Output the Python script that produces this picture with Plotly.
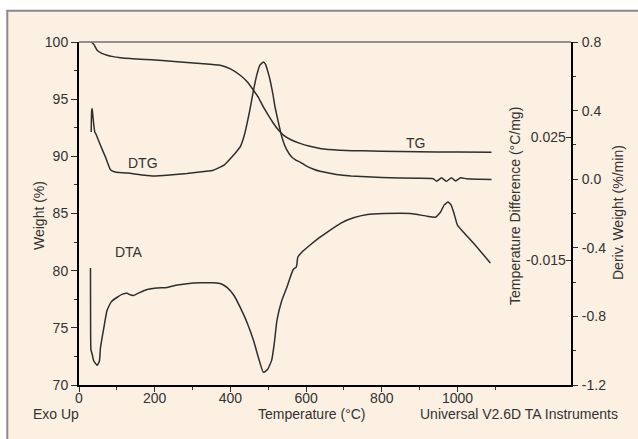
import plotly.graph_objects as go

# ---------------- data ----------------
tg_temp = [33, 40, 48, 60, 74, 90, 109, 135, 162, 220, 268, 320, 373, 400, 426, 445,
           461, 475, 487, 500, 514, 527, 540, 560, 584, 610, 637, 689, 750, 800, 895,
           1000, 1090]
tg_weight = [100.0, 99.75, 99.27, 99.0, 98.84, 98.72, 98.63, 98.55, 98.5, 98.38, 98.25,
             98.12, 97.96, 97.65, 97.09, 96.5, 95.78, 95.1, 94.32, 93.6, 92.87, 92.3,
             91.85, 91.45, 91.13, 90.88, 90.69, 90.54, 90.48, 90.44, 90.4, 90.38, 90.36]

dtg_temp = [32.2, 33.5, 34.8, 37, 41.7, 45, 51.4, 60, 70, 83, 95, 105, 128, 167, 197,
            240, 285, 330, 355, 385, 408, 416, 426, 436, 444, 452, 461, 470, 478, 487,
            493, 500, 505, 512, 518, 527, 536, 548, 562, 572, 584, 600, 620, 637, 680,
            719, 800, 895, 936, 945, 958, 971, 984, 995, 1008, 1024, 1060, 1090]
dtg_deriv = [0.275, 0.40, 0.412, 0.36, 0.275, 0.262, 0.227, 0.18, 0.129, 0.055, 0.042,
             0.039, 0.036, 0.025, 0.018, 0.024, 0.033, 0.045, 0.052, 0.085, 0.139, 0.16,
             0.188, 0.25, 0.324, 0.41, 0.518, 0.61, 0.665, 0.683, 0.67, 0.62, 0.577, 0.50,
             0.421, 0.33, 0.246, 0.175, 0.129, 0.113, 0.100, 0.078, 0.058, 0.046, 0.028,
             0.019, 0.01, 0.005, 0.003, -0.012, 0.008, -0.012, 0.008, -0.010, 0.008,
             0.003, 0.0, -0.002]

dta_temp = [30.3, 30.6, 31.5, 34.8, 39, 48, 54, 56.7, 65.5, 74, 85, 101, 115, 127, 135,
            145, 160, 180, 205, 233, 260, 285, 320, 356, 375, 391, 410, 426, 445, 461,
            475, 487, 498, 509, 516, 523, 536, 549, 566, 574, 576, 578, 590, 610, 637,
            660, 691, 725, 762, 805, 876, 920, 942, 955, 965, 975, 983, 990, 1000, 1016,
            1050, 1087]
dta_diff = [-0.0175, -0.035, -0.044, -0.0455, -0.0477, -0.0491, -0.0477, -0.0434, -0.0370,
            -0.0313, -0.0285, -0.0270, -0.0260, -0.0257, -0.0262, -0.0264, -0.0255,
            -0.0245, -0.0240, -0.0238, -0.0230, -0.0226, -0.0223, -0.0223, -0.0226,
            -0.0238, -0.0265, -0.0303, -0.0355, -0.0410, -0.0470, -0.0514, -0.0505,
            -0.0475, -0.0420, -0.0345, -0.0280, -0.0238, -0.0180, -0.0172, -0.0160,
            -0.0140, -0.0122, -0.0101, -0.0075, -0.0055, -0.0030, -0.0012, -0.0001,
            0.0002, 0.0002, -0.0007, -0.0010, 0.0006, 0.0030, 0.0039, 0.0030, 0.0006,
            -0.0036, -0.0059, -0.0105, -0.0159]

x_ticks = [0, 200, 400, 600, 800, 1000, 1200]
weight_ticks = [70, 75, 80, 85, 90, 95, 100]
deriv_ticks = [-1.2, -0.8, -0.4, 0.0, 0.4, 0.8]
deriv_labels = ["-1.2", "-0.8", "-0.4", "0.0", "0.4", "0.8"]
dta_ticks = [0.025, -0.015]
dta_labels = ["0.025", "-0.015"]

# ---------------- layout helpers ----------------
W, H = 638, 439
ML, MR, MT, MB = 79, 67, 42, 54
PW, PH = W - ML - MR, H - MT - MB


def px(x):
    return (x - ML) / PW


def py(y):
    return (H - MB - y) / PH


LINE = "#2e2e2e"
TXT = "#333333"
BG = "#fcf0e2"
FONT = "Liberation Sans, Arial, sans-serif"
FS = 14

fig = go.Figure()
fig.add_trace(go.Scatter(x=tg_temp, y=tg_weight, mode="lines", yaxis="y",
                         line=dict(color=LINE, width=1.5, shape="spline", smoothing=0.5),
                         showlegend=False, hoverinfo="skip"))
fig.add_trace(go.Scatter(x=dtg_temp, y=dtg_deriv, mode="lines", yaxis="y2",
                         line=dict(color=LINE, width=1.5, shape="spline", smoothing=0.4),
                         showlegend=False, hoverinfo="skip"))
fig.add_trace(go.Scatter(x=dta_temp, y=dta_diff, mode="lines", yaxis="y3",
                         line=dict(color=LINE, width=1.5, shape="spline", smoothing=0.4),
                         showlegend=False, hoverinfo="skip"))

axis_common = dict(showgrid=False, zeroline=False, tickfont=dict(size=FS, color=TXT),
                   tickcolor=LINE, automargin=False)

fig.update_layout(
    width=W, height=H,
    margin=dict(l=ML, r=MR, t=MT, b=MB, pad=0),
    paper_bgcolor="white",
    plot_bgcolor="rgba(0,0,0,0)",
    font=dict(family=FONT, size=FS, color=TXT),
    xaxis=dict(range=[0, 1300], tickvals=x_ticks, ticks="outside", ticklen=5, tickwidth=1.2,
               showline=True, linecolor="black", linewidth=2, ticklabelstandoff=-6,
               minor=dict(ticks="outside", dtick=100, ticklen=3, tickcolor=LINE),
               **axis_common),
    yaxis=dict(range=[70, 100], tickvals=weight_ticks, ticks="outside", ticklen=6, tickwidth=1.2,
               showline=True, linecolor="black", linewidth=2, ticklabelstandoff=0,
               minor=dict(ticks="outside", dtick=2.5, ticklen=3, tickcolor=LINE),
               **axis_common),
    yaxis2=dict(range=[-1.2, 0.8], overlaying="y", side="right", anchor="x",
                tickvals=deriv_ticks, ticktext=deriv_labels, ticks="outside", ticklen=5,
                tickwidth=1.2, showline=True, linecolor="black", linewidth=2,
                ticklabelstandoff=1,
                minor=dict(ticks="outside", dtick=0.2, ticklen=3, tickcolor=LINE),
                **axis_common),
    yaxis3=dict(range=[-0.0555, 0.0559], overlaying="y", side="right", anchor="x",
                tickvals=dta_ticks, ticktext=dta_labels, ticks="inside", ticklen=5,
                tickwidth=1.2, ticklabelposition="inside", showline=False,
                **axis_common),
)

# panel background and frame
fig.add_shape(type="rect", xref="paper", yref="paper", layer="below",
              x0=px(7.3), x1=px(700), y0=py(500), y1=py(10.7),
              fillcolor=BG, line=dict(color="#8a8a8a", width=2))
fig.add_shape(type="line", xref="paper", yref="paper", x0=0, x1=1, y0=1, y1=1,
              line=dict(color="#707070", width=1.5))


def ann(text, x, y, angle=0):
    fig.add_annotation(text=text, xref="paper", yref="paper", x=px(x), y=py(y),
                       showarrow=False, textangle=angle, xanchor="center", yanchor="middle",
                       font=dict(family=FONT, size=FS, color=TXT))


ann("Weight (%)", 39, 216, angle=-90)
ann("Temperature Difference (°C/mg)", 515, 206, angle=-90)
ann("Deriv. Weight (%/min)", 618, 213, angle=-90)
ann("Exo Up", 56, 414)
ann("Temperature (°C)", 312, 414)
ann("Universal V2.6D TA Instruments", 519, 414)
ann("DTG", 143, 163)
ann("TG", 415, 143)
ann("DTA", 129, 252)

fig.write_html(
    "out.html",
    config={"displayModeBar": False},
    post_script="document.body.style.margin='0px';document.body.style.overflow='hidden';",
)
